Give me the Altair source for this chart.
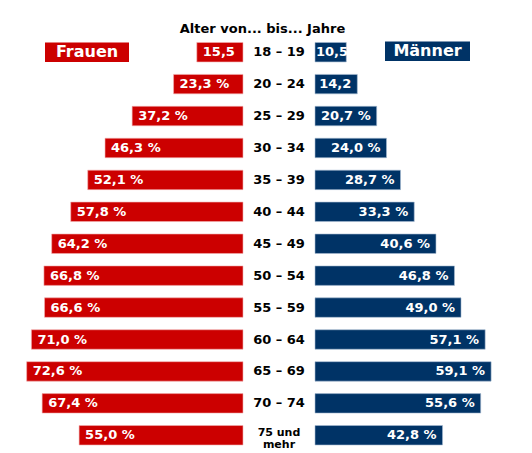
import altair as alt
import pandas as pd

ages = ["18 – 19", "20 – 24", "25 – 29", "30 – 34", "35 – 39", "40 – 44", "45 – 49",
        "50 – 54", "55 – 59", "60 – 64", "65 – 69", "70 – 74", "75 und\nmehr"]
frauen = [15.5, 23.3, 37.2, 46.3, 52.1, 57.8, 64.2, 66.8, 66.6, 71.0, 72.6, 67.4, 55.0]
maenner = [10.5, 14.2, 20.7, 24.0, 28.7, 33.3, 40.6, 46.8, 49.0, 57.1, 59.1, 55.6, 42.8]
title_text = "Alter von... bis... Jahre"
legend_f = "Frauen"
legend_m = "Männer"

RED = "#cc0000"
BLUE = "#003366"
FONT = "DejaVu Sans"
PX_PER_PCT = 2.98
W_LEFT, W_MID, W_RIGHT, H = 235, 72, 200, 437


def fmt(v):
    s = f"{v:.1f}".replace(".", ",")
    return s + (" %" if v >= 18 else "")


df = pd.DataFrame({
    "age": ages,
    "f": frauen,
    "m": maenner,
    "fl": [fmt(v) for v in frauen],
    "ml": [fmt(v) for v in maenner],
    "multi": ["\n" in a for a in ages],
})

yenc = alt.Y("age:N", scale=alt.Scale(domain=ages, paddingInner=0.39, paddingOuter=0.54, align=1), axis=None)

# Left panel (Frauen)
xl = alt.Scale(domain=[0, W_LEFT / PX_PER_PCT], reverse=True, nice=False, zero=True)
base_l = alt.Chart(df)
bars_l = base_l.mark_bar(color=RED, stroke="#f2b0b0", strokeWidth=0.6).encode(
    x=alt.X("f:Q", scale=xl, axis=None), x2=alt.datum(0), y=yenc)
text_l = base_l.mark_text(align="left", dx=6, color="white", font=FONT, fontWeight="bold", fontSize=13).encode(
    x=alt.X("f:Q", scale=xl, axis=None), y=yenc, text="fl:N")
leg_df_f = pd.DataFrame({"age": [ages[0]], "lab": [legend_f]})
leg_box_f = alt.Chart(leg_df_f).mark_rect(color=RED).encode(
    x=alt.value(37), x2=alt.value(121), y=yenc)
leg_txt_f = alt.Chart(leg_df_f).mark_text(color="white", font=FONT, fontWeight="bold", fontSize=16).encode(
    x=alt.value(79), y=yenc, text="lab:N")
left = alt.layer(bars_l, text_l, leg_box_f, leg_txt_f).properties(width=W_LEFT, height=H)

# Middle panel (age labels + title)
mid_text = alt.Chart(df).transform_filter("!datum.multi").mark_text(
    font=FONT, fontWeight="bold", fontSize=13, color="black").encode(
    x=alt.value(W_MID / 2), y=yenc, text="age:N")
mid_text_multi = alt.Chart(df).transform_filter("datum.multi").mark_text(
    font=FONT, fontWeight="bold", fontSize=11, color="black",
    lineBreak="\n", lineHeight=12, dy=-2).encode(
    x=alt.value(W_MID / 2), y=yenc, text="age:N")
title_df = pd.DataFrame({"t": [title_text]})
title = alt.Chart(title_df).mark_text(font=FONT, fontWeight="bold", fontSize=13, color="black").encode(
    x=alt.value(W_MID / 2 - 16.5), y=alt.value(21), text="t:N")
mid = alt.layer(mid_text, mid_text_multi, title).properties(width=W_MID, height=H)

# Right panel (Männer)
xr = alt.Scale(domain=[0, W_RIGHT / PX_PER_PCT], nice=False, zero=True)
base_r = alt.Chart(df)
bars_r = base_r.mark_bar(color=BLUE, stroke="#a9bdd3", strokeWidth=0.6).encode(
    x=alt.X("m:Q", scale=xr, axis=None), x2=alt.datum(0), y=yenc)
text_r = base_r.transform_filter("datum.m >= 12").mark_text(
    align="right", dx=-6, color="white", font=FONT, fontWeight="bold", fontSize=13).encode(
    x=alt.X("m:Q", scale=xr, axis=None), y=yenc, text="ml:N")
text_r_short = base_r.transform_filter("datum.m < 12").mark_text(
    align="left", dx=1, color="white", font=FONT, fontWeight="bold", fontSize=13).encode(
    x=alt.datum(0, scale=xr), y=yenc, text="ml:N")
leg_df_m = pd.DataFrame({"age": [ages[0]], "lab": [legend_m]})
leg_box_m = alt.Chart(leg_df_m).mark_rect(color=BLUE, yOffset=-1).encode(
    x=alt.value(70), x2=alt.value(155), y=yenc)
leg_txt_m = alt.Chart(leg_df_m).mark_text(color="white", font=FONT, fontWeight="bold", fontSize=16, dy=-1).encode(
    x=alt.value(112.5), y=yenc, text="lab:N")
right = alt.layer(bars_r, text_r, text_r_short, leg_box_m, leg_txt_m).properties(width=W_RIGHT, height=H)

chart = alt.hconcat(left, mid, right, spacing=0, bounds="flush").properties(
    padding=0, background="white"
).configure_view(stroke=None).resolve_scale(y="shared")

chart.save("out.html", embed_options={"renderer": "svg", "actions": False})
